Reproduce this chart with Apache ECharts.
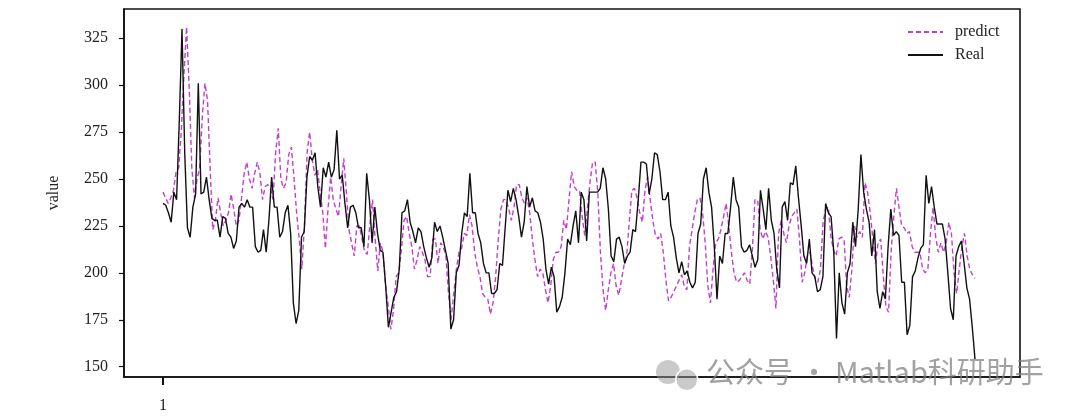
<!DOCTYPE html>
<html>
<head>
<meta charset="utf-8">
<script src="https://cdn.jsdelivr.net/npm/echarts@6/dist/echarts.min.js"></script>
<style>
html,body{margin:0;padding:0;background:#fff;}
#chart{width:1080px;height:416px;}
</style>
</head>
<body>
<div id="chart"></div>
<script>
// Real series values
const realValues = [
237,236,232,227,243,239,281,330,264,224,219,235,242,301,242,243,251,239,229,228,228,219,230,229,221,219,213,217,235,237,235,239,235,235,214,211,212,223,211,228,251,
235,235,219,222,232,236,221,184,173,180,219,222,251,262,260,264,246,235,256,251,259,251,255,276,250,252,237,224,235,236,232,224,224,214,253,239,216,235,221,212,211,193,171,179,187,190,
202,232,233,239,227,222,216,224,222,214,208,203,208,227,222,225,219,212,205,170,175,200,204,221,232,230,253,232,232,221,216,205,200,200,189,189,191,205,204,224,244,238,
245,239,230,219,
227,246,235,240,233,232,227,218,202,194,203,198,179,182,187,200,218,215,225,233,216,243,239,217,243,243,243,243,245,256,250,234,209,206,218,219,214,205,209,211,223,222,239,
259,259,258,242,250,264,263,254,239,239,243,225,219,208,200,206,199,201,195,192,195,221,226,250,256,243,235,214,186,209,205,221,221,235,251,239,235,214,211,212,215,209,203,
207,244,234,223,245,228,221,202,192,235,238,228,248,247,257,240,225,209,205,218,200,198,190,191,198,237,232,230,211,165,200,184,178,200,205,227,214,234,263,243,234,227,209,223,
190,181,190,186,214,234,220,222,220,195,195,167,172,198,201,208,213,215,252,237,246,235,226,226,226,218,200,181,175,209,214,217,205,192,186,171,154
];
// Predict series values
const predictValues = [
243,240,237,240,244,254,256,276,306,331,299,256,240,250,256,283,301,292,256,223,228,240,232,225,228,232,242,234,225,228,240,253,259,250,245,253,259,253,239,246,247,245,239,
264,277,250,245,248,263,267,251,232,218,202,225,264,275,260,252,255,243,232,213,234,251,239,234,230,246,261,243,223,216,209,225,225,218,211,210,226,239,218,201,216,211,193,182,170,180,198,
200,212,228,230,221,214,202,207,214,211,207,198,198,218,218,205,216,214,209,189,175,189,202,211,213,221,220,231,225,211,203,198,189,187,186,178,184,198,218,234,239,
239,234,228,235,247,247,240,237,240,232,218,207,198,202,200,191,184,193,207,211,211,214,228,223,239,254,246,244,244,230,220,234,248,259,259,243,211,191,180,191,200,205,193,188,196,204,209,
227,244,245,240,232,227,244,251,239,228,220,218,221,211,196,185,187,190,193,196,199,193,191,214,223,232,239,240,232,216,193,184,202,216,218,223,230,237,225,211,200,195,196,198,200,
196,194,212,239,239,223,218,222,219,209,196,181,221,228,221,216,225,230,232,234,218,195,200,209,211,203,197,195,202,227,234,235,219,212,209,218,219,218,193,187,202,225,219,222,219,248,243,232,218,205,
216,218,198,182,179,212,230,245,235,225,224,221,222,214,211,211,211,202,200,202,221,235,219,211,216,211,216,227,221,200,189,202,214,221,209,202,199,197
];
const yTickValues = [150,175,200,225,250,275,300,325];
const xTickValues = [1];
const seriesNames = ['predict','Real'];

// layout: plot box and where the first/last sample sit inside it
const plotLeftPad = 39, plotRightPad = 45, dataSpan = 812;
function axisRange(n){
  const unit = dataSpan/(n-1);
  return {min: 1 - plotLeftPad/unit, max: n + plotRightPad/unit};
}
const rr = axisRange(realValues.length);
const pr = axisRange(predictValues.length);

const serif = 'Liberation Serif';
const chart = echarts.init(document.getElementById('chart'), null, {renderer:'canvas'});
chart.setOption({
  animation:false,
  backgroundColor:'#fff',
  grid:{left:124, right:60, top:9, bottom:39, show:true, borderColor:'#111', borderWidth:1.6, backgroundColor:'transparent'},
  legend:{
    orient:'vertical', left:902, top:19, itemWidth:35, itemHeight:14, itemGap:7,
    itemStyle:{opacity:0},
    textStyle:{fontFamily:serif, fontSize:16, color:'#222', padding:[0,0,0,7]},
    data:seriesNames
  },
  xAxis:[
    {type:'value', min:rr.min, max:rr.max, position:'bottom',
     axisLine:{show:true, onZero:false, lineStyle:{color:'#111', width:1.6}},
     axisTick:{show:true, customValues:xTickValues, length:8, lineStyle:{color:'#111', width:2}},
     axisLabel:{show:true, customValues:xTickValues, margin:21, fontFamily:serif, fontSize:16, color:'#222'},
     splitLine:{show:false}},
    {type:'value', min:pr.min, max:pr.max, show:false, splitLine:{show:false}}
  ],
  yAxis:{
    type:'value', min:144.5, max:340.6,
    name:'value', nameLocation:'middle', nameGap:62, nameRotate:90,
    nameTextStyle:{fontFamily:serif, fontSize:16, color:'#222'},
    axisLine:{show:true, onZero:false, lineStyle:{color:'#111', width:1.6}},
    axisTick:{show:true, customValues:yTickValues, length:5, lineStyle:{color:'#111', width:1.2}},
    axisLabel:{show:true, customValues:yTickValues, margin:16, fontFamily:serif, fontSize:16, color:'#222'},
    splitLine:{show:false}
  },
  series:[
    {name:seriesNames[0], type:'line', xAxisIndex:1, symbol:'none', smooth:false,
     data:predictValues.map((v,i)=>[i+1,v]),
     lineStyle:{color:'#c23fcf', width:1.4, type:[5,3]}, itemStyle:{color:'#c23fcf'}},
    {name:seriesNames[1], type:'line', xAxisIndex:0, symbol:'none', smooth:false,
     data:realValues.map((v,i)=>[i+1,v]),
     lineStyle:{color:'#111', width:1.4}, itemStyle:{color:'#111'}}
  ],
  graphic:[
    {type:'circle', left:656, top:360, shape:{r:12}, style:{fill:'rgba(150,150,150,0.5)'}, z:100},
    {type:'circle', left:675, top:368, shape:{r:11}, style:{fill:'rgba(150,150,150,0.5)', stroke:'#fff', lineWidth:1.5}, z:101},
    {type:'text', left:706, top:357, z:102,
     style:{text:'公众号 · Matlab科研助手', fontFamily:'Noto Sans CJK SC', fontSize:29, fill:'rgba(125,125,125,0.72)'}}
  ]
});
</script>
</body>
</html>
